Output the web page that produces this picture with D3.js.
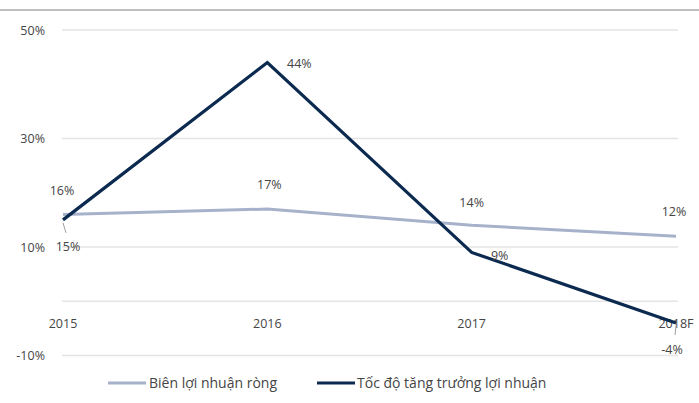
<!DOCTYPE html>
<html><head><meta charset="utf-8">
<script src="https://cdn.jsdelivr.net/npm/d3@7"></script>
<style>body{margin:0;background:#fff}svg{display:block}text{font-family:"Open Sans","Liberation Sans",sans-serif;fill:#454545}</style>
</head><body><svg id="c" width="699" height="403"></svg>
<script>
const categories = ["2015","2016","2017","2018F"];
const netMargin = [16,17,14,12];
const profitGrowth = [15,44,9,-4];
const yTicks = [-10,10,30,50];
const seriesNames = ["Biên lợi nhuận ròng","Tốc độ tăng trưởng lợi nhuận"];

const svg = d3.select("#c");
const x = d3.scalePoint().domain(categories).range([63,676]);
const y = d3.scaleLinear().domain([-10,50]).range([355.5,30]);

svg.append("line").attr("x1",0).attr("x2",699).attr("y1",10).attr("y2",10).attr("stroke","#808080").attr("stroke-width",1);

// gridlines
svg.append("g").selectAll("line").data(yTicks).join("line")
  .attr("x1",62).attr("x2",678).attr("y1",d=>y(d)).attr("y2",d=>y(d))
  .attr("stroke","#e4e4e4").attr("stroke-width",1.5);
svg.append("g").selectAll("text").data(yTicks).join("text")
  .attr("x",45).attr("y",d=>y(d)+4.5).attr("text-anchor","end").attr("font-size",12.5)
  .text(d=>d+"%");
// zero axis
svg.append("line").attr("x1",62).attr("x2",678).attr("y1",y(0)).attr("y2",y(0)).attr("stroke","#e4e4e4").attr("stroke-width",1.5);
svg.append("g").selectAll("text").data(categories).join("text")
  .attr("x",d=>x(d)).attr("y",y(0)+27).attr("text-anchor","middle").attr("font-size",12.5).text(d=>d);

const line = d3.line().x((d,i)=>x(categories[i])).y(d=>y(d));
svg.append("path").datum(netMargin).attr("d",line).attr("fill","none").attr("stroke","#a6b2ca").attr("stroke-width",3);
svg.append("path").datum(profitGrowth).attr("d",line).attr("fill","none").attr("stroke","#0c2a50").attr("stroke-width",3.2).attr("stroke-linejoin","miter");

// labels
const lm = [[-1,-19],[2,-20],[0,-18],[-2,-20]];
svg.append("g").selectAll("text").data(netMargin).join("text")
  .attr("x",(d,i)=>x(categories[i])+lm[i][0]).attr("y",(d,i)=>y(d)+lm[i][1])
  .attr("text-anchor","middle").attr("font-size",12.5).text(d=>d+"%");
const lg = [[5,31],[32,5],[28,8],[-4,31]];
// leader lines
svg.append("line").attr("x1",x(categories[0])).attr("y1",y(profitGrowth[0])+3).attr("x2",x(categories[0])+3).attr("y2",y(profitGrowth[0])+13).attr("stroke","#a0a0a0").attr("stroke-width",1);
svg.append("line").attr("x1",x(categories[3])).attr("y1",y(profitGrowth[3])+3).attr("x2",x(categories[3])-1).attr("y2",y(profitGrowth[3])+12).attr("stroke","#a0a0a0").attr("stroke-width",1);
svg.append("g").selectAll("text").data(profitGrowth).join("text")
  .attr("x",(d,i)=>x(categories[i])+lg[i][0]).attr("y",(d,i)=>y(d)+lg[i][1])
  .attr("text-anchor","middle").attr("font-size",12.5).text(d=>d+"%");

// legend
const leg = svg.append("g");
leg.append("line").attr("x1",108).attr("x2",146).attr("y1",383).attr("y2",383).attr("stroke","#a6b2ca").attr("stroke-width",3);
leg.append("text").attr("x",149).attr("y",388).attr("font-size",14).text(seriesNames[0]);
leg.append("line").attr("x1",317).attr("x2",355).attr("y1",383).attr("y2",383).attr("stroke","#0c2a50").attr("stroke-width",3);
leg.append("text").attr("x",357).attr("y",388).attr("font-size",14).text(seriesNames[1]);
</script></body></html>
